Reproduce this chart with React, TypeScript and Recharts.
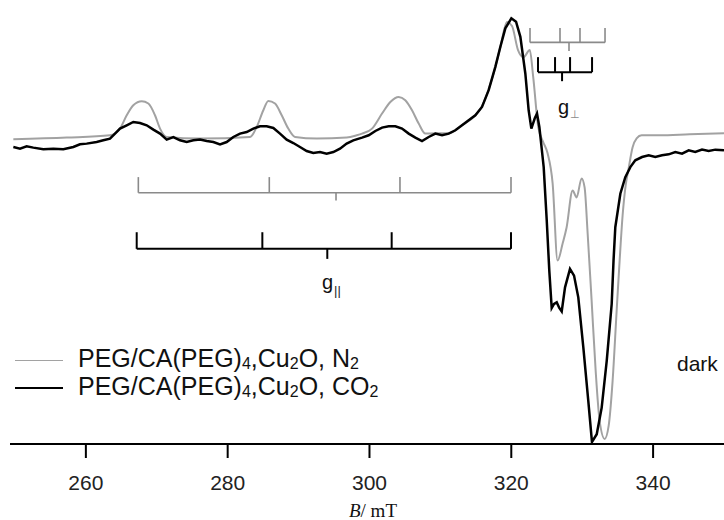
import React from 'react';
import { LineChart, Line, XAxis, YAxis, Legend, ReferenceLine, ReferenceDot } from 'recharts';

// EPR spectra, field in mT, signal in arbitrary units (baseline ~ 0)
const n2Field = [
  249.77, 257.3, 263.4, 264.81, 265.76, 266.69, 267.88, 268.81, 269.75, 270.46, 271.4, 276.1,
  283.15, 284.09, 285.03, 285.73, 286.68, 287.62, 288.55, 289.5, 292.56, 296.79, 298.2, 298.95,
  300.36, 301.77, 302.94, 304.12, 305.05, 306.0, 306.94, 307.87, 309.29, 311.17, 313.05, 314.93,
  315.87, 316.81, 317.75, 318.46, 319.4, 320.1, 320.95, 321.72, 322.61, 323.09, 323.8, 324.5,
  325.12, 325.83, 326.53, 327.24, 327.8, 328.65, 329.21, 329.92, 330.34, 330.77, 331.33, 331.9,
  332.46, 333.17, 333.73, 334.29, 334.86, 335.28, 335.7, 336.13, 336.55, 337.11, 337.68, 338.38,
  340.92, 345.15, 350.0,
];
const n2Signal = [
  0, 1.7, 4, 10.7, 24, 34, 38, 35.7, 24, 10.7, 2.3, 0.7,
  2.3, 12.3, 29, 38.3, 35.7, 24, 10.7, 2.3, 0.7, 1.7, 4, 5.7,
  10.7, 25.7, 37.3, 42.3, 39, 29, 15.7, 5.7, 6, 6, 14, 24,
  33, 50, 72, 92, 117, 113, 89, 82, 89, 62.3, 12.3, -2.7,
  -14, -44, -121, -104, -88, -51, -58, -39, -48, -94, -161, -231,
  -281, -299, -286, -241, -171, -121, -76, -46, -29, -8, 1, 4,
  4, 5, 6,
];

const co2Field = [
  249.77, 250.71, 251.65, 252.59, 254.0, 255.41, 256.82, 258.23, 259.17, 260.11, 261.52, 262.46,
  263.4, 264.11, 264.81, 265.76, 266.69, 267.64, 268.58, 269.52, 270.46, 271.4, 272.34, 273.28,
  274.22, 275.16, 276.1, 277.04, 277.98, 278.92, 279.86, 280.8, 281.74, 282.68, 283.62, 284.56,
  285.5, 286.44, 287.38, 288.32, 289.26, 290.2, 291.14, 292.08, 293.02, 293.96, 294.9, 295.84,
  296.78, 297.72, 298.95, 299.89, 300.83, 301.77, 302.71, 303.65, 304.59, 305.53, 306.47, 307.41,
  308.35, 309.29, 310.23, 311.17, 312.11, 313.05, 313.99, 314.93, 315.87, 316.81, 317.75, 318.46,
  319.16, 320.01, 320.67, 321.28, 321.98, 322.45, 322.83, 323.3, 323.63, 323.96, 324.57, 325.0,
  325.36, 325.7, 326.03, 326.41, 326.77, 327.11, 327.58, 328.28, 328.85, 329.45, 330.16, 330.86,
  331.38, 332.05, 332.75, 333.46, 334.16, 334.42, 334.67, 335.38, 336.08, 336.79, 337.49, 338.44,
  339.38, 340.31, 341.26, 342.2, 343.13, 344.08, 345.02, 345.95, 346.9, 347.84, 348.78, 350.0,
];
const co2Signal = [
  -7.7, -9.3, -7, -8.3, -10, -9.3, -10, -7.7, -5, -4.3, -2.7, -1,
  0.7, 5.7, 10.7, 14, 17.3, 16.3, 14, 9.7, 5.7, -0.3, 2.3, -1,
  -2.7, -1, -0.3, -1.7, -2.7, -5, -2.7, 2.3, 5.7, 7.3, 10.7, 13,
  13, 11.3, 5.7, -0.3, -3.7, -7.7, -11.7, -13.7, -12.7, -14.3, -12.7, -9.3,
  -4.3, -1, 1.7, 4, 8.3, 11.7, 13, 13, 10.7, 5.7, 1.7, -1.7,
  2.3, 5.7, 4, 5.7, 9, 14, 19, 24, 32.3, 49, 72.3, 92.3,
  110.7, 120.7, 117.3, 102.3, 65.7, 29, 10.7, 20.7, 25.7, 12.3, -27.7, -81,
  -131, -168.3, -164.3, -162.7, -168.3, -171.7, -147.7, -129.3, -136, -157.7, -207.7, -261,
  -302, -294.3, -267.7, -221, -164.3, -121, -87.7, -54.3, -37.7, -27.7, -21, -17.7,
  -16, -17.7, -16, -15, -12.7, -14.3, -11, -12.7, -10.3, -11.7, -10.3, -11,
];

const fieldTicks = [260, 280, 300, 320, 340];

// stick diagrams (hyperfine markers)
const gParN2 = [267.4, 285.87, 304.3, 319.96];
const gParN2Center = 295.28;
const gParCO2 = [267.17, 284.89, 303.13, 319.96];
const gParCO2Center = 294.05;
const gPerpN2 = [322.64, 326.87, 329.69, 333.22];
const gPerpN2Center = 328.14;
const gPerpCO2 = [323.77, 326.17, 328.29, 331.39];
const gPerpCO2Center = 327.16;

const n2Data = n2Field.map((b, i) => ({ b, s: n2Signal[i] }));
const co2Data = co2Field.map((b, i) => ({ b, s: co2Signal[i] }));

const GRAY = '#a2a2a2';
const STICK_GRAY = '#8a8a8a';
const SANS = '"Liberation Sans", Arial, sans-serif';

const N2_NAME = 'PEG/CA(PEG)4,Cu2O, N2';
const CO2_NAME = 'PEG/CA(PEG)4,Cu2O, CO2';
const legendItems = [
  { name: N2_NAME, color: GRAY, width: 1.6 },
  { name: CO2_NAME, color: '#000', width: 2.6 },
];

type Stick = { ticks: number[]; center: number; y: number; up: number; down: number; color: string; width: number };

const sticks: Stick[] = [
  { ticks: gParN2, center: gParN2Center, y: -53.3, up: -37.7, down: -61, color: STICK_GRAY, width: 1.6 },
  { ticks: gParCO2, center: gParCO2Center, y: -109.3, up: -92.7, down: -119.3, color: '#000', width: 2 },
  { ticks: gPerpN2, center: gPerpN2Center, y: 96.7, up: 111, down: 88, color: STICK_GRAY, width: 1.6 },
  { ticks: gPerpCO2, center: gPerpCO2Center, y: 67, up: 82, down: 58, color: '#000', width: 2 },
];

const renderStick = (s: Stick, k: number) => {
  const first = s.ticks[0];
  const last = s.ticks[s.ticks.length - 1];
  const lines = [
    <ReferenceLine key={`h${k}`} segment={[{ x: first, y: s.y }, { x: last, y: s.y }]} stroke={s.color} strokeWidth={s.width} ifOverflow="visible" />,
    <ReferenceLine key={`c${k}`} segment={[{ x: s.center, y: s.y }, { x: s.center, y: s.down }]} stroke={s.color} strokeWidth={s.width} ifOverflow="visible" />,
  ];
  s.ticks.forEach((t, j) => {
    lines.push(
      <ReferenceLine key={`t${k}-${j}`} segment={[{ x: t, y: s.y }, { x: t, y: s.up }]} stroke={s.color} strokeWidth={s.width} ifOverflow="visible" />
    );
  });
  return lines;
};

// digits become subscripts: PEG/CA(PEG)4,Cu2O, N2
const withSubs = (name: string) =>
  name.split(/(\d)/).map((part, i) =>
    /\d/.test(part) ? (
      <span key={i} style={{ fontSize: 16, position: 'relative', top: 1.5 }}>{part}</span>
    ) : (
      <span key={i}>{part}</span>
    )
  );

const renderLegend = () => (
  <div style={{ fontFamily: SANS, fontSize: 25, color: '#111', lineHeight: '28px' }}>
    {legendItems.map((item) => (
      <div key={item.name} style={{ display: 'flex', alignItems: 'center', height: 28, whiteSpace: 'nowrap' }}>
        <div style={{ width: 48, height: 0, borderTop: `${item.width}px solid ${item.color}`, marginRight: 15 }} />
        <span>{withSubs(item.name)}</span>
      </div>
    ))}
  </div>
);

const GLabel = ({ cx, cy, sub, subColor, subSize, subDy }: any) => (
  <text x={cx} y={cy} fontFamily={SANS} fontSize={20} fill="#111">
    g
    <tspan dx={1} dy={subDy} fontSize={subSize} fill={subColor}>{sub}</tspan>
  </text>
);

const AxisTitle = ({ viewBox }: any) => (
  <text x={viewBox.x + viewBox.width / 2 + 6} y={viewBox.y + 73} textAnchor="middle" fontFamily='"Liberation Serif", "Times New Roman", serif' fontSize={19} fill="#111">
    <tspan fontStyle="italic">B</tspan>/ mT
  </text>
);

export default function App() {
  return (
    <div style={{ position: 'absolute', left: 0, top: 0, width: 724, height: 520, background: '#fff' }}>
      <LineChart width={724} height={520} margin={{ top: 0, right: 0, bottom: 0, left: 10 }}>
        <XAxis
          type="number"
          dataKey="b"
          domain={[249.3, 350]}
          allowDataOverflow
          ticks={fieldTicks}
          height={76}
          tickSize={14}
          tickMargin={17}
          axisLine={{ stroke: '#000', strokeWidth: 2 }}
          tickLine={{ stroke: '#000', strokeWidth: 2 }}
          tick={{ fontSize: 21, fill: '#222', fontFamily: SANS }}
          label={{ content: AxisTitle }}
        />
        <YAxis type="number" domain={[-304, 139]} hide width={0} allowDataOverflow />
        <Legend
          layout="vertical"
          align="center"
          verticalAlign="middle"
          wrapperStyle={{ left: 15, top: 346, width: 'auto' }}
          content={renderLegend}
        />
        {sticks.map((s, k) => renderStick(s, k))}
        <Line
          data={n2Data}
          dataKey="s"
          name={N2_NAME}
          type="monotone"
          stroke={GRAY}
          strokeWidth={2}
          dot={false}
          isAnimationActive={false}
        />
        <Line
          data={co2Data}
          dataKey="s"
          name={CO2_NAME}
          type="linear"
          stroke="#000"
          strokeWidth={2.5}
          dot={false}
          isAnimationActive={false}
        />
        <ReferenceDot x={293.3} y={-149.5} r={0} ifOverflow="visible"
          shape={(p: any) => <GLabel cx={p.cx} cy={p.cy} sub="||" subColor="#222" subSize={13} subDy={5.5} />} />
        <ReferenceDot x={326.59} y={25} r={0} ifOverflow="visible"
          shape={(p: any) => <GLabel cx={p.cx} cy={p.cy} sub="⊥" subColor="#8a8a8a" subSize={11} subDy={4} />} />
        <ReferenceDot x={343.37} y={-231} r={0} ifOverflow="visible"
          shape={(p: any) => (
            <text x={p.cx} y={p.cy} fontFamily={SANS} fontSize={21} fill="#111">dark</text>
          )} />
      </LineChart>
    </div>
  );
}
